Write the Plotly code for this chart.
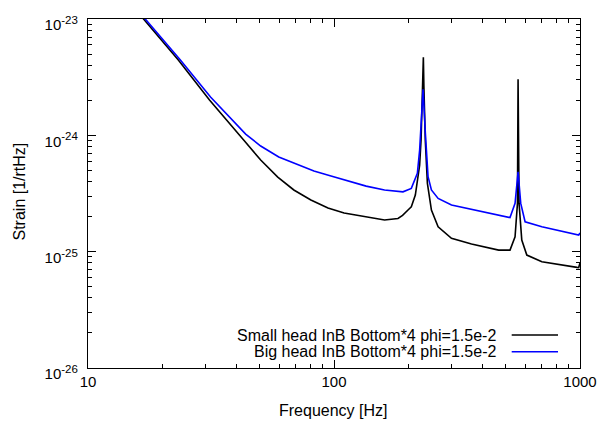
import plotly.graph_objects as go

# Small head InB Bottom*4 phi=1.5e-2 (black)
small_f = [16.0, 16.82, 23.29, 31.18, 42.93, 50.35, 59.07, 68.67, 80.54, 94.52, 109.9,
           135.1, 160.5, 182.0, 190.0, 199.9, 206.2, 214.1, 222.9, 225.9, 229.7, 230.8,
           231.9, 235.0, 239.7, 248.9, 265.0, 300.3, 362.2, 467.1, 519.4, 544.5, 556.9,
           560.1, 565.3, 579.9, 607.8, 699.8, 972.3, 988.0, 1000.0]
small_s = [1.12e-23, 1.00e-23, 4.44e-24, 2.01e-24, 9.11e-25, 6.13e-25, 4.38e-25, 3.39e-25,
           2.78e-25, 2.37e-25, 2.15e-25, 1.98e-25, 1.87e-25, 1.93e-25, 2.05e-25, 2.28e-25,
           2.43e-25, 3.07e-25, 5.55e-25, 9.11e-25, 2.71e-24, 4.69e-24, 2.71e-24, 9.11e-25,
           3.87e-25, 2.28e-25, 1.637e-25, 1.301e-25, 1.162e-25, 1.032e-25, 1.032e-25,
           1.343e-25, 2.60e-25, 3.03e-24, 2.60e-25, 1.259e-25, 9.35e-26, 8.19e-26, 7.33e-26,
           7.3e-26, 8.0e-26]

# Big head InB Bottom*4 phi=1.5e-2 (blue)
big_f = [16.2, 17.09, 23.74, 31.48, 43.74, 50.35, 59.63, 69.97, 82.86, 97.23, 114.0, 135.1,
         160.5, 190.7, 206.2, 218.2, 222.9, 226.5, 230.1, 235.2, 241.2, 248.9, 265.0, 300.3,
         458.3, 519.4, 544.5, 560.1, 574.3, 598.1, 699.8, 988.0, 1000.0]
big_s = [1.12e-23, 1.00e-23, 4.44e-24, 2.135e-24, 1.026e-24, 8.09e-25, 6.51e-25, 5.66e-25,
         4.93e-25, 4.47e-25, 4.05e-25, 3.66e-25, 3.39e-25, 3.27e-25, 3.50e-25, 4.71e-25,
         7.47e-25, 1.445e-24, 2.49e-24, 1.04e-24, 4.41e-25, 3.39e-25, 2.87e-25, 2.52e-25,
         2.065e-25, 1.964e-25, 2.60e-25, 4.86e-25, 2.60e-25, 1.807e-25, 1.637e-25, 1.39e-25,
         1.45e-25]

series_names = ["Small head InB Bottom*4 phi=1.5e-2", "Big head InB Bottom*4 phi=1.5e-2"]
series_colors = ["#000000", "#0000ff"]

x_tickvals = [10, 100, 1000]
x_ticktext = ["10", "100", "1000"]
y_tickvals = [1e-26, 1e-25, 1e-24, 1e-23]
y_exps = ["-26", "-25", "-24", "-23"]
y_ticktext = ["10<sup><span style='font-size:11.5px'>%s</span></sup>" % e for e in y_exps]
x_minor = [m * d for d in (10, 100) for m in range(2, 10)]
y_minor = [m * d for d in (1e-26, 1e-25, 1e-24) for m in range(2, 10)]

FONT = "Liberation Sans, Arial, sans-serif"
FS = 16
W, H = 600, 424
PL, PR, PT, PB = 88, 580, 19, 368  # plot area in pixels


def fx(p):
    return p / W


def fy(p):
    return 1 - p / H


fig = go.Figure()
fig.add_trace(go.Scatter(x=small_f, y=small_s, mode="lines", name=series_names[0],
                         line=dict(color=series_colors[0], width=1.6), showlegend=False))
fig.add_trace(go.Scatter(x=big_f, y=big_s, mode="lines", name=series_names[1],
                         line=dict(color=series_colors[1], width=1.6), showlegend=False))

axis_common = dict(
    type="log", showgrid=False, zeroline=False, showline=True, linecolor="black",
    linewidth=1.2, ticks="inside", ticklen=8, tickwidth=1, tickcolor="black",
    mirror="allticks", tickmode="array", automargin=False,
    tickfont=dict(family=FONT, size=15, color="black"),
)
fig.update_xaxes(range=[1, 3], tickvals=x_tickvals, ticktext=x_ticktext,
                 domain=[fx(PL), fx(PR)],
                 minor=dict(tickmode="array", tickvals=x_minor, ticks="inside",
                            ticklen=4, tickcolor="black"),
                 **axis_common)
fig.update_yaxes(range=[-26, -23], tickvals=y_tickvals, ticktext=y_ticktext,
                 domain=[fy(PB), fy(PT)], ticklabelstandoff=6, ticklabelshift=6,
                 minor=dict(tickmode="array", tickvals=y_minor, ticks="inside",
                            ticklen=4, tickcolor="black"),
                 **axis_common)

# legend (gnuplot style: text right-aligned, sample line to the right)
leg_rows = [335, 351.7]
for name, color, yy in zip(series_names, series_colors, leg_rows):
    fig.add_annotation(xref="paper", yref="paper", x=fx(498), y=fy(yy), text=name,
                       showarrow=False, xanchor="right", yanchor="middle",
                       font=dict(family=FONT, size=FS, color="black"))
    fig.add_shape(type="line", xref="paper", yref="paper", x0=fx(511.7), x1=fx(558),
                  y0=fy(yy), y1=fy(yy), line=dict(color=color, width=1.6))

fig.add_annotation(xref="paper", yref="paper", x=fx(333), y=fy(410), text="Frequency [Hz]",
                   showarrow=False, xanchor="center", yanchor="middle",
                   font=dict(family=FONT, size=FS, color="black"))
fig.add_annotation(xref="paper", yref="paper", x=fx(18.5), y=fy(192), text="Strain [1/rtHz]",
                   showarrow=False, xanchor="center", yanchor="middle", textangle=-90,
                   font=dict(family=FONT, size=FS, color="black"))

fig.update_layout(width=W, height=H, autosize=False,
                  margin=dict(l=0, r=0, t=0, b=0, pad=0),
                  plot_bgcolor="white", paper_bgcolor="white", showlegend=False)

fig.write_html(
    "out.html",
    config={"displayModeBar": False, "responsive": False},
    post_script=(
        "document.body.style.margin='0';"
        "document.body.style.overflow='hidden';"
        "document.documentElement.style.overflow='hidden';"
    ),
)
